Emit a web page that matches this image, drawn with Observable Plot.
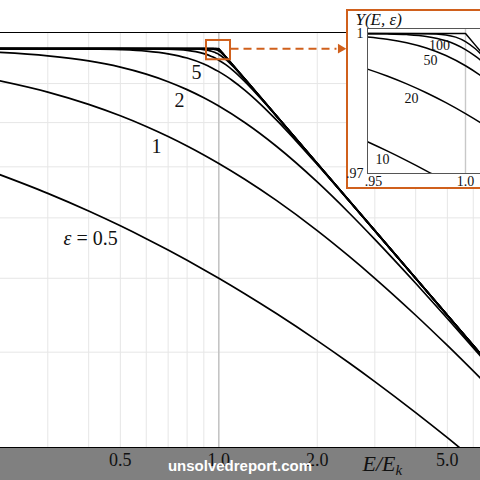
<!DOCTYPE html>
<html><head><meta charset="utf-8">
<script src="https://cdn.jsdelivr.net/npm/d3@7"></script>
<script src="https://cdn.jsdelivr.net/npm/@observablehq/plot@0.6"></script>
<style>
html,body{margin:0;padding:0;width:480px;height:480px;overflow:hidden;background:#fff;}
#wrap{position:relative;width:480px;height:480px;overflow:hidden;}
#band{position:absolute;left:0;top:448px;width:480px;height:32px;background:#808080;}
#main{position:absolute;left:0;top:0;}
#inset{position:absolute;left:346px;top:9px;border:2px solid #d0601c;background:#fff;width:150px;height:176px;}
#inset svg, #main svg{display:block;}
#wm{position:absolute;left:0;top:457px;width:480px;line-height:17px;text-align:center;color:#fff;font:bold 15px "Liberation Sans",Arial,sans-serif;}
</style></head>
<body><div id="wrap"><div id="band"></div><div id="main"></div><div id="inset"></div><div id="wm">unsolvedreport.com</div></div>
<script>
// ---- data: [E/E_k, Y] per curve ----
const curve05 = [[0.2,0.6910],[0.3,0.6461],[0.4,0.6126],[0.5,0.5858],[0.6,0.5635],[0.7,0.5445],[0.8,0.5279],[0.9,0.5132],[1,0.5],[1.2,0.4772],[1.5,0.4495],[2,0.4142],[2.5,0.3874],[3,0.3660],[4,0.3333],[5,0.3090],[6.5,0.2817]];
const curve1 = [[0.2,0.9129],[0.3,0.8771],[0.4,0.8452],[0.5,0.8165],[0.6,0.7906],[0.7,0.7670],[0.8,0.7454],[0.9,0.7255],[1,0.7071],[1.2,0.6742],[1.5,0.6325],[2,0.5774],[2.5,0.5345],[3,0.5],[4,0.4472],[5,0.4082],[6.5,0.3651]];
const curve2 = [[0.2,0.9902],[0.3,0.9787],[0.4,0.9636],[0.5,0.9457],[0.6,0.9260],[0.7,0.9051],[0.8,0.8837],[0.9,0.8621],[1,0.8409],[1.2,0.8001],[1.5,0.7448],[2,0.6687],[2.5,0.6094],[3,0.5623],[4,0.4925],[5,0.4429],[6.5,0.3900]];
const curve5 = [[0.2,1.0],[0.3,0.99976],[0.4,0.99898],[0.5,0.99693],[0.6,0.99254],[0.7,0.98459],[0.8,0.97205],[0.9,0.95466],[0.95,0.94430],[1,0.93303],[1.05,0.92104],[1.1,0.90850],[1.2,0.88254],[1.35,0.84351],[1.5,0.80646],[1.75,0.75147],[2,0.70493],[2.5,0.63181],[3,0.57711],[4,0.49995],[5,0.44720],[6.5,0.39223]];
const curve10 = [[0.2,1],[0.5,0.99995],[0.6,0.99970],[0.7,0.99861],[0.8,0.99491],[0.85,0.99105],[0.9,0.98516],[0.95,0.97681],[0.96,0.97484],[0.97,0.97276],[0.98,0.97058],[0.99,0.96831],[1,0.96594],[1.05,0.95282],[1.1,0.93804],[1.2,0.90606],[1.35,0.85858],[1.5,0.81580],[1.75,0.75579],[2,0.70706],[2.5,0.63245],[3,0.57735],[4,0.5],[5,0.44721],[6.5,0.39223]];
const curve20 = [[0.2,1],[0.6,1],[0.8,0.99971],[0.85,0.99905],[0.9,0.99714],[0.93,0.99475],[0.95,0.99237],[0.96,0.99089],[0.97,0.98920],[0.98,0.98730],[0.99,0.98517],[1,0.98282],[1.02,0.97749],[1.05,0.96813],[1.1,0.95017],[1.2,0.91229],[1.35,0.86061],[1.5,0.81649],[2,0.70711],[3,0.57735],[5,0.44721],[6.5,0.39223]];
const curve50 = [[0.2,1],[0.85,1],[0.9,0.99995],[0.93,0.99974],[0.95,0.99926],[0.96,0.99878],[0.97,0.99803],[0.98,0.99690],[0.99,0.99528],[1,0.99309],[1.01,0.99032],[1.02,0.98702],[1.05,0.97508],[1.1,0.95338],[1.2,0.91287],[1.5,0.81650],[2,0.70711],[3,0.57735],[5,0.44721],[6.5,0.39223]];
const curve100 = [[0.2,1],[0.9,1],[0.95,0.99997],[0.96,0.99992],[0.97,0.99977],[0.98,0.99938],[0.99,0.99844],[0.995,0.99763],[1,0.99654],[1.005,0.99514],[1.01,0.99347],[1.02,0.98951],[1.05,0.97586],[1.1,0.95346],[1.2,0.91287],[1.5,0.81650],[2,0.70711],[3,0.57735],[5,0.44721],[6.5,0.39223]];
const curve200 = [[0.2,1],[0.95,1],[0.98,0.99996],[0.99,0.99969],[0.995,0.99922],[1,0.99827],[1.005,0.99673],[1.01,0.99472],[1.02,0.99010],[1.05,0.97590],[1.1,0.95346],[1.2,0.91287],[1.5,0.81650],[2,0.70711],[3,0.57735],[6.5,0.39223]];
const curveInf = [[0.2,1],[1,1],[1.005,0.99751],[1.01,0.99504],[1.02,0.99015],[1.05,0.97590],[1.2,0.91287],[2,0.70711],[6.5,0.39223]];

const epsNames = ["0.5","1","2","5","10","20","50","100","200"];
const smoothCurves = [curve05,curve1,curve2,curve5,curve10,curve20,curve50,curve100,curve200];

// axis ticks & grid
const xTicks = [0.5, 1, 2, 5];
const xGrid = [0.3,0.4,0.5,0.6,0.7,0.8,0.9,2,3,4,5,6];
const yGrid = [0.4,0.5,0.6,0.7,0.8,0.9];
const insetXTickLeft = [0.95];
const insetXTickLeftText = [".95"];
const insetXTickRight = [1.0];
const insetXTickRightText = ["1.0"];
const insetYTicks = [0.97, 1.0];
const insetYTickText = [".97", "1"];

// curve labels
const mainLabels = [{t:"5",E:0.855,Y:0.930},{t:"2",E:0.758,Y:0.855},{t:"1",E:0.645,Y:0.744}];
const epsLabel = [{E:0.335,Y:0.563}];
const insetLabels = [{t:"100",E:0.9867,Y:0.99743},{t:"50",E:0.9821,Y:0.99421},{t:"20",E:0.9725,Y:0.98607},{t:"10",E:0.9577,Y:0.97300}];

// zoom box and arrow (data coordinates)
const zoomBox = [{x1:0.917,x2:1.086,y1:0.967,y2:1.025}];
const arrowLine = [{x1:1.086,x2:2.29,y:1.0}];
const arrowHead = [{x:2.36,y:1.0}];

const ORANGE = "#d0601c";
const SERIF = "'Liberation Serif','DejaVu Serif',serif";

const rows = smoothCurves.flatMap((c,i) => c.map(([E,Y]) => ({eps:epsNames[i],E,Y})));
const infRows = curveInf.map(([E,Y]) => ({eps:"inf",E,Y}));

const main = Plot.plot({
  width:480, height:480, marginLeft:0, marginRight:0, marginTop:32, marginBottom:33,
  style:{background:"transparent", fontFamily:SERIF, color:"#111"},
  x:{type:"log", domain:[0.215,6.314], label:null},
  y:{type:"log", domain:[0.3,1.05], axis:null, label:null},
  marks:[
    Plot.ruleX(xGrid,{stroke:"#e6e6e6", strokeWidth:1}),
    Plot.ruleY(yGrid,{stroke:"#e6e6e6", strokeWidth:1}),
    Plot.ruleX([1],{stroke:"#c4c4c4", strokeWidth:1.6}),
    Plot.ruleY([0.3,1.05],{stroke:"#000", strokeWidth:1.2}),
    Plot.line(rows,{x:"E", y:"Y", z:"eps", curve:"monotone-x", stroke:"#000", strokeWidth:1.7, clip:true}),
    Plot.line(infRows,{x:"E", y:"Y", curve:"linear", stroke:"#000", strokeWidth:1.7, clip:true}),
    Plot.rect(zoomBox,{x1:"x1",x2:"x2",y1:"y1",y2:"y2", fill:"none", stroke:ORANGE, strokeWidth:2}),
    Plot.link(arrowLine,{x1:"x1",x2:"x2",y1:"y",y2:"y", stroke:ORANGE, strokeWidth:2, strokeDasharray:"8,5"}),
    Plot.dot(arrowHead,{x:"x",y:"y", symbol:"triangle", rotate:90, r:3.6, fill:ORANGE, stroke:"none"}),
    Plot.text(mainLabels,{x:"E",y:"Y",text:"t", fontSize:20, fontFamily:SERIF, fill:"#111"}),
    Plot.text(epsLabel,{x:"E",y:"Y",text:()=>"ε", textAnchor:"start", fontSize:20, fontStyle:"italic", fontFamily:SERIF, fill:"#111"}),
    Plot.text(epsLabel,{x:"E",y:"Y",text:()=>"= 0.5", textAnchor:"start", dx:13, fontSize:20, fontFamily:SERIF, fill:"#111"}),
    Plot.axisX({ticks:xTicks, tickFormat:d3.format(".1f"), tickSize:0, tickPadding:6, fontSize:18, fontFamily:SERIF, label:null, fill:"#111"}),
    Plot.text(["E/E"],{frameAnchor:"bottom-left", dx:362, dy:23, lineAnchor:"bottom", textAnchor:"start", fontSize:22, fontStyle:"italic", fontFamily:SERIF, fill:"#111"}),
    Plot.text(["k"],{frameAnchor:"bottom-left", dx:395, dy:27, lineAnchor:"bottom", textAnchor:"start", fontSize:15, fontStyle:"italic", fontFamily:SERIF, fill:"#111"})
  ]
});
document.getElementById("main").appendChild(main);

const inset = Plot.plot({
  width:150, height:176, marginLeft:19, marginRight:0, marginTop:17, marginBottom:14,
  style:{background:"white", fontFamily:SERIF, overflow:"visible", color:"#111"},
  x:{domain:[0.95,1.01684], label:null},
  y:{domain:[0.97,1.00107], label:null},
  marks:[
    Plot.ruleX([1],{stroke:"#c8c8c8", strokeWidth:1.4}),
    Plot.line(rows,{x:"E", y:"Y", z:"eps", curve:"monotone-x", stroke:"#000", strokeWidth:1.5, clip:true}),
    Plot.line(infRows,{x:"E", y:"Y", curve:"linear", stroke:"#000", strokeWidth:1.5, clip:true}),
    Plot.frame({stroke:"#555"}),
    Plot.text(insetLabels,{x:"E",y:"Y",text:"t", fontSize:14, fontFamily:SERIF, fill:"#111"}),
    Plot.axisX({ticks:insetXTickLeft, tickFormat:(d,i)=>insetXTickLeftText[i], tickSize:0, tickPadding:3, dx:6, fontSize:14, fontFamily:SERIF, label:null, fill:"#111"}),
    Plot.axisX({ticks:insetXTickRight, tickFormat:(d,i)=>insetXTickRightText[i], tickSize:0, tickPadding:3, fontSize:14, fontFamily:SERIF, label:null, fill:"#111"}),
    Plot.axisY({ticks:insetYTicks, tickFormat:(d,i)=>insetYTickText[i], tickSize:0, tickPadding:4, fontSize:14, fontFamily:SERIF, label:null, fill:"#111"}),
    Plot.text(["Y(E, ε)"],{frameAnchor:"top-left", dx:-12, dy:-4, lineAnchor:"bottom", textAnchor:"start", fontSize:17, fontStyle:"italic", fontFamily:SERIF, fill:"#111"})
  ]
});
document.getElementById("inset").appendChild(inset);
</script>
</body></html>
